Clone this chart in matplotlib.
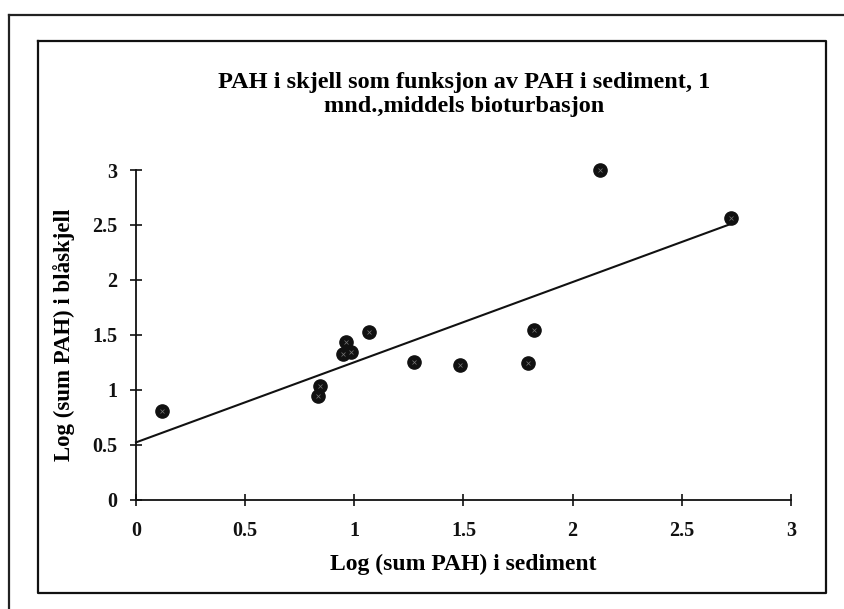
import matplotlib
matplotlib.use("Agg")
import matplotlib.pyplot as plt
from matplotlib.lines import Line2D
import numpy as np

# Data
sediment_log = [0.118, 0.832, 0.844, 0.947, 0.962, 0.985, 1.069, 1.275, 1.484, 1.797, 1.822, 2.127, 2.726]
mussel_log = [0.81, 0.944, 1.035, 1.323, 1.435, 1.344, 1.525, 1.253, 1.223, 1.244, 1.547, 3.0, 2.56]
trend_intercept = 0.52
trend_slope = 0.73
x_ticks = [0, 0.5, 1, 1.5, 2, 2.5, 3]
y_ticks = [0, 0.5, 1, 1.5, 2, 2.5, 3]
x_tick_labels = ["0", "0.5", "1", "1.5", "2", "2.5", "3"]
y_tick_labels = ["0", "0.5", "1", "1.5", "2", "2.5", "3"]
title_text = "PAH i skjell som funksjon av PAH i sediment, 1\nmnd.,middels bioturbasjon"
x_label = "Log (sum PAH) i sediment"
y_label = "Log (sum PAH) i blåskjell"

W, H = 845, 609
fig = plt.figure(figsize=(W / 100, H / 100), dpi=100)
fig.patch.set_facecolor("white")

font = "Liberation Serif"

def fx(px):
    return px / W

def fy(py):
    return 1 - py / H

# Outer frame (top and left edges visible)
fig.add_artist(Line2D([fx(9), 1.0], [fy(15), fy(15)], transform=fig.transFigure, color="#222222", lw=1.6))
fig.add_artist(Line2D([fx(9), fx(9)], [fy(15), 0.0], transform=fig.transFigure, color="#222222", lw=1.6))
# Inner chart frame
fig.add_artist(Line2D([fx(38), fx(826), fx(826), fx(38), fx(38)],
                      [fy(41), fy(41), fy(593), fy(593), fy(41)],
                      transform=fig.transFigure, color="#111111", lw=1.6))

ax = fig.add_axes([fx(136), fy(499.5), fx(791) - fx(136), fy(170) - fy(499.5)])
ax.set_xlim(0, 3)
ax.set_ylim(0, 3)
for s in ["top", "right"]:
    ax.spines[s].set_visible(False)
for s in ["left", "bottom"]:
    ax.spines[s].set_linewidth(1.3)
    ax.spines[s].set_color("#111111")

ax.set_xticks(x_ticks)
ax.set_xticklabels(x_tick_labels)
ax.set_yticks(y_ticks)
ax.set_yticklabels(y_tick_labels)
ax.tick_params(direction="inout", length=9, width=1.2, colors="#111111", labelsize=14.5)
for lab in ax.get_xticklabels() + ax.get_yticklabels():
    lab.set_fontfamily(font)
    lab.set_fontweight("bold")
ax.tick_params(axis="x", pad=11)
ax.tick_params(axis="y", pad=9)

# Trend line
x_end = max(sediment_log)
tx = np.array([0.0, x_end])
ax.plot(tx, trend_intercept + trend_slope * tx, color="#111111", lw=1.5, zorder=2, clip_on=False)

# Points
ax.plot(sediment_log, mussel_log, linestyle="none", marker="o", markersize=9.5,
        markerfacecolor="#111111", markeredgecolor="#111111", zorder=3, clip_on=False)
ax.plot(sediment_log, mussel_log, linestyle="none", marker="x", markersize=2.5,
        markeredgecolor="#777777", markeredgewidth=0.5, zorder=4, clip_on=False)

ax.set_xlabel(x_label, fontfamily=font, fontweight="bold", fontsize=17, labelpad=9)
ax.set_ylabel(y_label, fontfamily=font, fontweight="bold", fontsize=16.5, labelpad=12)

fig.text(fx(464), fy(94.5), title_text, ha="center", va="center", fontfamily=font,
         fontweight="bold", fontsize=17.5, linespacing=1.22)

fig.savefig("out.png", dpi=100, facecolor="white")
